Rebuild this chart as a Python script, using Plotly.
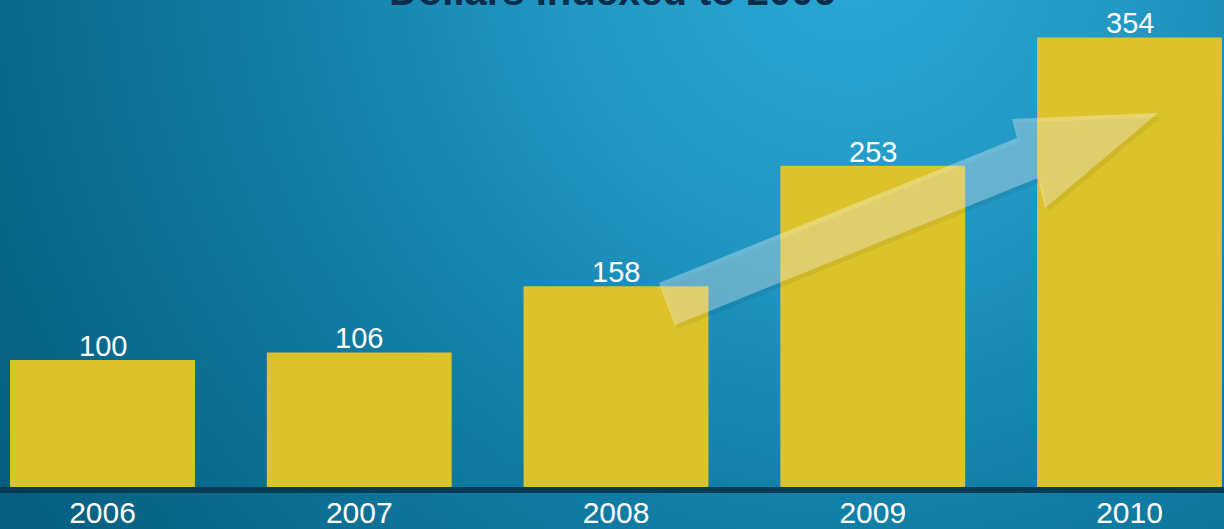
import base64
import plotly.graph_objects as go

# ---- data ----
years = ["2006", "2007", "2008", "2009", "2010"]
values = [100, 106, 158, 253, 354]
title_text = "Dollars Indexed to 2006"

# ---- style ----
W, H = 1224, 529
MARGIN_B = 42
PLOT_H = H - MARGIN_B
BAR_COLOR = "#dcc32b"
FONT = "Liberation Sans, Arial, sans-serif"

# background gradient (svg data uri)
svg = f"""<svg xmlns='http://www.w3.org/2000/svg' width='{W}' height='{H}' viewBox='0 0 {W} {H}' preserveAspectRatio='none'>
<defs><radialGradient id='g' gradientUnits='userSpaceOnUse' cx='850' cy='-50' r='1000'>
<stop offset='0' stop-color='#2aa8d4'/>
<stop offset='0.3' stop-color='#2297c3'/>
<stop offset='0.55' stop-color='#1280a8'/>
<stop offset='0.8' stop-color='#0b6d90'/>
<stop offset='1' stop-color='#075e7e'/>
</radialGradient></defs>
<rect width='{W}' height='{H}' fill='url(#g)'/></svg>"""
bg_src = "data:image/svg+xml;base64," + base64.b64encode(svg.encode()).decode()


def px(x, y):
    """pixel position -> paper coordinates (decoration only)"""
    return x / W, (PLOT_H - y) / PLOT_H


def path_from(points):
    pts = [px(x, y) for x, y in points]
    return "M " + " L ".join(f"{a:.5f},{b:.5f}" for a, b in pts) + " Z"


arrow_pts = [(659, 283), (1017, 138), (1012, 119), (1158, 113),
             (1045, 208), (1038, 178), (675, 325)]
shadow_pts = [(x + 3, y + 4) for x, y in arrow_pts]

fig = go.Figure()
fig.add_trace(go.Bar(
    x=years, y=values,
    marker=dict(color=BAR_COLOR, line=dict(width=0)),
    hoverinfo="skip",
))

# value labels placed through the category axis (index of each year)
value_labels = [dict(x=i, y=v, xref="x", yref="y", text=str(v),
                     xanchor="center", yanchor="bottom", yshift=-4,
                     showarrow=False,
                     font=dict(family=FONT, size=29, color="white"))
                for i, v in enumerate(values)]

fig.update_layout(
    width=W, height=H,
    margin=dict(l=0, r=0, t=0, b=MARGIN_B, pad=0, autoexpand=False),
    paper_bgcolor="#0b6d90",
    plot_bgcolor="rgba(0,0,0,0)",
    bargap=0.28,
    showlegend=False,
    images=[dict(source=bg_src, xref="paper", yref="paper", x=0, y=1,
                 sizex=1, sizey=H / PLOT_H, sizing="stretch",
                 xanchor="left", yanchor="top", layer="below")],
    xaxis=dict(type="category", range=[-0.3992, 4.368], automargin=False,
               showgrid=False, zeroline=False,
               showline=True, linewidth=6, linecolor="#073b55",
               ticks="", ticklabelstandoff=-6,
               tickfont=dict(family=FONT, size=30, color="white")),
    yaxis=dict(range=[0, PLOT_H / 1.27], visible=False, showgrid=False,
               automargin=False),
    shapes=[
        dict(type="path", path=path_from(shadow_pts), xref="paper", yref="paper",
             fillcolor="rgba(0,0,0,0.06)", line=dict(width=0), layer="above"),
        dict(type="path", path=path_from(arrow_pts), xref="paper", yref="paper",
             fillcolor="rgba(255,255,255,0.32)", line=dict(width=0), layer="above"),
    ],
    annotations=value_labels + [
        dict(text=f"<b>{title_text}</b>", xref="paper", yref="paper",
             x=0.5, y=1, xanchor="center", yanchor="bottom",
             yshift=-15, showarrow=False,
             font=dict(family=FONT, size=40, color="#0b2c4b"))],
)

fig.write_html("out.html", config={"displayModeBar": False},
               post_script="document.body.style.margin='0';")
